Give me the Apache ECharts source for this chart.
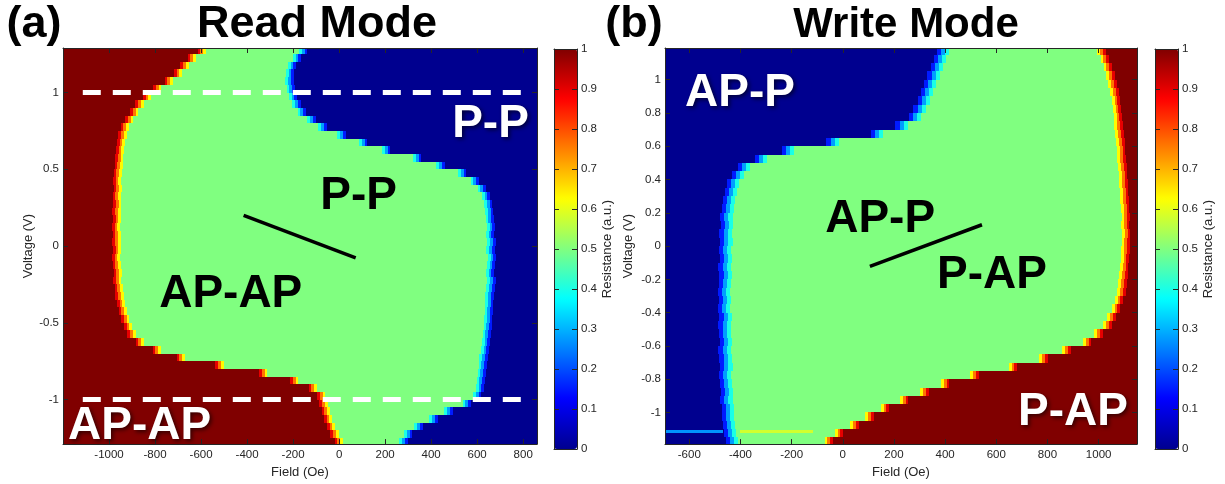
<!DOCTYPE html>
<html>
<head>
<meta charset="utf-8">
<script src="https://cdn.jsdelivr.net/npm/echarts@6/dist/echarts.min.js"></script>
<style>html,body{margin:0;padding:0;background:#fff}#c{width:1225px;height:484px}</style>
</head>
<body>
<div id="c"></div>
<script>
// ---------------- DATA ----------------
// (a) Read Mode: voltage rows (V) and the two switching fields (Oe) per row
const readVolt = [1.275, 1.225, 1.175, 1.125, 1.075, 1.025, 0.975, 0.925, 0.875, 0.825, 0.775, 0.725, 0.675, 0.625, 0.575, 0.525, 0.475, 0.425, 0.375, 0.325, 0.275, 0.225, 0.175, 0.125, 0.075, 0.025,
  -0.025, -0.075, -0.125, -0.175, -0.225, -0.275, -0.325, -0.375, -0.425, -0.475, -0.525, -0.575, -0.625, -0.675, -0.725, -0.775, -0.825, -0.875, -0.925, -0.975, -1.025, -1.075, -1.125, -1.175, -1.225, -1.275];
// AP-AP (R=1) -> P-P (R=0.5) boundary
const readLeftEdge = [-597, -640, -672, -700, -740, -790, -835, -868, -890, -912, -932, -942, -948, -952, -956, -958, -962, -965, -962, -966, -964, -968, -965, -970, -966, -968,
  -965, -970, -966, -962, -964, -958, -955, -948, -940, -930, -918, -902, -866, -792, -688, -520, -330, -195, -115, -78, -68, -58, -48, -35, -20, -2];
// P-P (R=0.5) -> P-P (R=0) boundary
const readRightEdge = [-156, -183, -205, -213, -216, -210, -200, -185, -162, -120, -72, 10, 105, 205, 340, 440, 535, 590, 620, 638, 648, 652, 655, 660, 656, 662,
  658, 664, 660, 656, 662, 658, 654, 652, 650, 648, 646, 642, 638, 634, 628, 624, 620, 616, 612, 600, 555, 475, 410, 345, 300, 280];

// (b) Write Mode
const writeVolt = [1.175, 1.125, 1.075, 1.025, 0.975, 0.925, 0.875, 0.825, 0.775, 0.725, 0.675, 0.625, 0.575, 0.525, 0.475, 0.425, 0.375, 0.325, 0.275, 0.225, 0.175, 0.125, 0.075, 0.025,
  -0.025, -0.075, -0.125, -0.175, -0.225, -0.275, -0.325, -0.375, -0.425, -0.475, -0.525, -0.575, -0.625, -0.675, -0.725, -0.775, -0.825, -0.875, -0.925, -0.975, -1.025, -1.075, -1.125, -1.175];
// AP-P (R=0) -> (R=0.5) boundary
const writeLeftEdge = [392, 380, 368, 355, 342, 330, 316, 300, 282, 230, 135, -40, -215, -320, -385, -410, -428, -438, -445, -450, -455, -452, -458, -455,
  -460, -456, -462, -458, -460, -465, -460, -463, -458, -462, -460, -456, -462, -458, -455, -460, -456, -452, -455, -448, -450, -445, -440, -432];
// (R=0.5) -> P-AP (R=1) boundary
const writeRightEdge = [1012, 1024, 1036, 1046, 1054, 1062, 1068, 1072, 1076, 1078, 1082, 1085, 1088, 1090, 1093, 1096, 1098, 1100, 1102, 1104, 1106, 1104, 1108, 1106,
  1105, 1103, 1100, 1098, 1094, 1090, 1080, 1068, 1050, 1035, 1000, 955, 875, 785, 665, 515, 400, 320, 240, 165, 105, 45, -15, -55];
// thin noisy streak near -1.1 V in write mode: [field from, field to, voltage, resistance]
const writeStreaks = [[-695, -470, -1.115, 0.27], [-400, -117, -1.115, 0.58]];

// axis ranges and ticks
const readFieldRange = [-1200, 860];
const readVoltRange = [-1.29, 1.29];
const writeFieldRange = [-695, 1150];
const writeVoltRange = [-1.19, 1.19];
const readFieldTicks = [-1000, -800, -600, -400, -200, 0, 200, 400, 600, 800];
const readVoltTicks = [-1, -0.5, 0, 0.5, 1];
const writeFieldTicks = [-600, -400, -200, 0, 200, 400, 600, 800, 1000];
const writeVoltTicks = [-1, -0.8, -0.6, -0.4, -0.2, 0, 0.2, 0.4, 0.6, 0.8, 1];
const colorbarTicks = [0, 0.1, 0.2, 0.3, 0.4, 0.5, 0.6, 0.7, 0.8, 0.9, 1];

// annotations (text, field, voltage)
const readWhiteNotes = [['P-P', 658, 0.826], ['AP-AP', -867, -1.142]];
const readBlackNotes = [['P-P', 85, 0.355], ['AP-AP', -471, -0.284]];
const writeWhiteNotes = [['AP-P', -402, 0.946], ['P-AP', 900, -0.970]];
const writeBlackNotes = [['AP-P', 146, 0.188], ['P-AP', 583, -0.146]];
const readSlash = [[-415, 0.2], [72, -0.077]];
const writeSlash = [[106, -0.122], [544, 0.128]];
const readDashVolt = [1, -1];
const readDashField = [-1114, 832];

// ---------------- BUILD ----------------
const FONT = "'Liberation Sans', Arial, Helvetica, sans-serif";
const INK = '#262626';
const jetColors = ['#00008F', '#0000FF', '#0080FF', '#00FFFF', '#80FF80', '#FFFF00', '#FF8000', '#FF0000', '#800000'];
const ROW_HALF = 0.025;
const STREAK_HALF = 0.009;
const HOT = [0.9, 0.76, 0.63];
const COLD = [0.15, 0.28, 0.4];

function rowCells(v, edgeA, edgeB, xMin, xMax, valA, valB, band) {
  const out = [];
  const add = (x0, x1, val) => { x0 = Math.max(x0, xMin); x1 = Math.min(x1, xMax); if (x1 > x0) out.push([x0, x1, v, val]); };
  const bandA = valA === 1 ? HOT : COLD;
  const bandB = (valB === 1 ? HOT : COLD).slice().reverse();
  const wA = valA === 1 ? band.hot : band.cold, wB = valB === 1 ? band.hot : band.cold;
  const a0 = edgeA - wA * bandA.length / 2, a1 = a0 + wA * bandA.length;
  const b0 = edgeB - wB * bandB.length / 2, b1 = b0 + wB * bandB.length;
  add(xMin, a0, valA);
  bandA.forEach((val, i) => add(a0 + i * wA, a0 + (i + 1) * wA, val));
  add(a1, b0, 0.5);
  bandB.forEach((val, i) => add(b0 + i * wB, b0 + (i + 1) * wB, val));
  add(b1, xMax, valB);
  return out;
}
function buildCells(volts, lefts, rights, range, valA, valB, band) {
  let cells = [];
  volts.forEach((v, i) => { cells = cells.concat(rowCells(v, lefts[i], rights[i], range[0], range[1], valA, valB, band)); });
  return cells;
}
const readCells = buildCells(readVolt, readLeftEdge, readRightEdge, readFieldRange, 1, 0, { hot: 12, cold: 12 });
const writeCells = buildCells(writeVolt, writeLeftEdge, writeRightEdge, writeFieldRange, 0, 1, { hot: 11, cold: 16 });

function makeRenderer(half) {
  return function (params, api) {
    const tl = api.coord([api.value(0), api.value(2) + half]);
    const br = api.coord([api.value(1), api.value(2) - half]);
    const x0 = Math.round(tl[0]), x1 = Math.round(br[0]);
    const y0 = Math.round(tl[1]), y1 = Math.round(br[1]);
    return {
      type: 'rect',
      shape: { x: x0, y: y0, width: Math.max(1, x1 - x0), height: Math.max(1, y1 - y0) },
      style: { fill: api.visual('color') }
    };
  };
}

const fmt = v => String(v);
const labelStyle = { fontSize: 11.5, color: INK, fontFamily: FONT };
const nameStyle = { fontSize: 13, color: INK, fontFamily: FONT };

function xAx(grid, pos, range, ticks, withLabels, name) {
  return {
    gridIndex: grid, type: 'value', position: pos, min: range[0], max: range[1], z: 10,
    name: name || '', nameLocation: 'middle', nameGap: 19, nameTextStyle: nameStyle,
    axisLine: { show: true, onZero: false, lineStyle: { color: INK, width: 1 } },
    axisTick: { show: !!ticks, inside: true, length: 5, customValues: ticks || [], lineStyle: { color: INK } },
    axisLabel: Object.assign({ show: withLabels, customValues: ticks || [], formatter: fmt, margin: 5 }, labelStyle),
    splitLine: { show: false }
  };
}
function yAx(grid, pos, range, ticks, withLabels, name, gap) {
  return {
    gridIndex: grid, type: 'value', position: pos, min: range[0], max: range[1], z: 10,
    name: name || '', nameLocation: 'middle', nameGap: gap || 28, nameTextStyle: nameStyle,
    axisLine: { show: true, onZero: false, lineStyle: { color: INK, width: 1 } },
    axisTick: { show: true, inside: true, length: 5, customValues: ticks, lineStyle: { color: INK } },
    axisLabel: Object.assign({ show: withLabels, customValues: ticks, formatter: fmt, margin: 4 }, labelStyle),
    splitLine: { show: false }
  };
}

function notesSeries(xi, notes, color) {
  return {
    type: 'scatter', xAxisIndex: xi, yAxisIndex: xi, silent: true, z: 20,
    symbolSize: 1, itemStyle: { color: 'rgba(0,0,0,0)', opacity: 1 },
    data: notes.map(n => [n[1], n[2], n[0]]),
    label: Object.assign({
      show: true, position: 'inside', offset: [0, 5], formatter: p => p.data[2],
      color: color, fontSize: 46, fontWeight: 'bold', fontFamily: FONT, opacity: 1
    }, color === '#fff' ? { textShadowColor: 'rgba(0,0,0,0.6)', textShadowBlur: 4, textShadowOffsetX: 2, textShadowOffsetY: 2 } : {})
  };
}
function lineSeries(xi, pts, style) {
  return { type: 'line', xAxisIndex: xi, yAxisIndex: xi, silent: true, z: 15, symbol: 'none', data: pts, lineStyle: style };
}

const option = {
  animation: false,
  backgroundColor: '#fff',
  grid: [
    { left: 63, top: 48, width: 474, height: 400 },
    { left: 665, top: 48, width: 472, height: 399 },
    { left: 554, top: 49, width: 23, height: 400 },
    { left: 1155, top: 49, width: 23, height: 400 }
  ],
  xAxis: [
    xAx(0, 'bottom', readFieldRange, readFieldTicks, true, 'Field (Oe)'),
    xAx(0, 'top', readFieldRange, readFieldTicks, false),
    xAx(1, 'bottom', writeFieldRange, writeFieldTicks, true, 'Field (Oe)'),
    xAx(1, 'top', writeFieldRange, writeFieldTicks, false),
    xAx(2, 'bottom', [0, 1], null, false),
    xAx(2, 'top', [0, 1], null, false),
    xAx(3, 'bottom', [0, 1], null, false),
    xAx(3, 'top', [0, 1], null, false)
  ],
  yAxis: [
    yAx(0, 'left', readVoltRange, readVoltTicks, true, 'Voltage (V)', 28),
    yAx(0, 'right', readVoltRange, readVoltTicks, false),
    yAx(1, 'left', writeVoltRange, writeVoltTicks, true, 'Voltage (V)', 30),
    yAx(1, 'right', writeVoltRange, writeVoltTicks, false),
    yAx(2, 'right', [0, 1], colorbarTicks, true, 'Resistance (a.u.)', 24),
    yAx(2, 'left', [0, 1], colorbarTicks, false),
    yAx(3, 'right', [0, 1], colorbarTicks, true, 'Resistance (a.u.)', 24),
    yAx(3, 'left', [0, 1], colorbarTicks, false)
  ],
  visualMap: [
    { type: 'continuous', min: 0, max: 1, dimension: 3, seriesIndex: 0, inRange: { color: jetColors },
      calculable: false, hoverLink: false, left: 554, top: 49, itemWidth: 23, itemHeight: 400, padding: 0, z: 1 },
    { type: 'continuous', min: 0, max: 1, dimension: 3, seriesIndex: [1, 2], inRange: { color: jetColors },
      calculable: false, hoverLink: false, left: 1155, top: 49, itemWidth: 23, itemHeight: 400, padding: 0, z: 1 }
  ],
  graphic: [
    { type: 'text', x: 34, y: 25, style: { text: '(a)', fontSize: 45, fontWeight: 'bold', fontFamily: FONT, fill: '#000', align: 'center', verticalAlign: 'middle' } },
    { type: 'text', x: 317, y: 25, style: { text: 'Read Mode', fontSize: 45, fontWeight: 'bold', fontFamily: FONT, fill: '#000', align: 'center', verticalAlign: 'middle' } },
    { type: 'text', x: 634, y: 25, style: { text: '(b)', fontSize: 45, fontWeight: 'bold', fontFamily: FONT, fill: '#000', align: 'center', verticalAlign: 'middle' } },
    { type: 'text', x: 906, y: 25, style: { text: 'Write Mode', fontSize: 42, fontWeight: 'bold', fontFamily: FONT, fill: '#000', align: 'center', verticalAlign: 'middle' } }
  ],
  series: [
    { type: 'custom', xAxisIndex: 0, yAxisIndex: 0, silent: true, clip: true, renderItem: makeRenderer(ROW_HALF),
      dimensions: ['x0', 'x1', 'v', 'r'], encode: { x: [0, 1], y: 2 }, data: readCells },
    { type: 'custom', xAxisIndex: 2, yAxisIndex: 2, silent: true, clip: true, renderItem: makeRenderer(ROW_HALF),
      dimensions: ['x0', 'x1', 'v', 'r'], encode: { x: [0, 1], y: 2 }, data: writeCells },
    { type: 'custom', xAxisIndex: 2, yAxisIndex: 2, silent: true, clip: true, z: 3, renderItem: makeRenderer(STREAK_HALF),
      dimensions: ['x0', 'x1', 'v', 'r'], encode: { x: [0, 1], y: 2 }, data: writeStreaks },
    lineSeries(0, [[readDashField[0], readDashVolt[0]], [readDashField[1], readDashVolt[0]]], { color: '#fff', width: 5, type: [18, 12] }),
    lineSeries(0, [[readDashField[0], readDashVolt[1]], [readDashField[1], readDashVolt[1]]], { color: '#fff', width: 5, type: [18, 12] }),
    lineSeries(0, readSlash, { color: '#000', width: 3.5 }),
    lineSeries(2, writeSlash, { color: '#000', width: 3.5 }),
    notesSeries(0, readWhiteNotes, '#fff'),
    notesSeries(0, readBlackNotes, '#000'),
    notesSeries(2, writeWhiteNotes, '#fff'),
    notesSeries(2, writeBlackNotes, '#000')
  ]
};
const chart = echarts.init(document.getElementById('c'), null, { renderer: 'canvas' });
chart.setOption(option);
</script>
</body>
</html>
